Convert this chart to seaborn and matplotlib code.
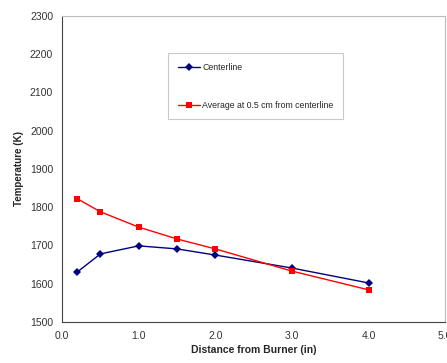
import matplotlib
matplotlib.use("Agg")
import matplotlib.pyplot as plt
import seaborn as sns
import pandas as pd

distance = [0.2, 0.5, 1.0, 1.5, 2.0, 3.0, 4.0]
centerline = [1631, 1678, 1699, 1691, 1675, 1641, 1602]
average_05cm = [1822, 1788, 1748, 1717, 1691, 1633, 1584]

df = pd.DataFrame({
    "Distance": distance * 2,
    "Temperature": centerline + average_05cm,
    "Series": ["Centerline"] * len(distance) + ["Average at 0.5 cm from centerline"] * len(distance),
})

sns.set_style("white")
plt.rcParams["font.family"] = ["Liberation Sans", "DejaVu Sans"]

fig = plt.figure(figsize=(4.47, 3.63), dpi=100)
ax = fig.add_axes([0.139, 0.113, 0.857, 0.843])

sns.lineplot(data=df, x="Distance", y="Temperature", hue="Series", style="Series",
             palette={"Centerline": "#000080", "Average at 0.5 cm from centerline": "#ff0000"},
             markers={"Centerline": "D", "Average at 0.5 cm from centerline": "s"},
             dashes=False, linewidth=1.0, markersize=5, markeredgewidth=0, ax=ax)
# diamonds a bit smaller than squares
for ln in ax.lines:
    if ln.get_marker() == "D":
        ln.set_markersize(4.2)

ax.set_xlim(0, 5)
ax.set_ylim(1500, 2300)
ax.set_xticks([0, 1, 2, 3, 4, 5])
ax.set_xticklabels(["0.0", "1.0", "2.0", "3.0", "4.0", "5.0"])
ax.set_yticks(range(1500, 2301, 100))
ax.tick_params(axis="both", labelsize=7.5, colors="#333333", direction="out", length=3, width=0.8)
for s in ax.spines.values():
    s.set_color("#444444")
    s.set_linewidth(0.8)
ax.spines["top"].set_color("#bbbbbb")
ax.spines["right"].set_color("#bbbbbb")

ax.set_xlabel("Distance from Burner (in)", fontsize=7.5, fontweight="bold", labelpad=3)
ax.set_ylabel("Temperature (K)", fontsize=7, fontweight="bold", labelpad=4)

leg = ax.legend(loc="upper left", bbox_to_anchor=(0.265, 0.893), fontsize=6.3, frameon=True,
                fancybox=False, edgecolor="#bbbbbb", labelspacing=3.3, handlelength=2.6,
                handletextpad=0.2, borderpad=1.1)
leg.get_frame().set_linewidth(0.8)
for h in leg.legend_handles:
    if h.get_marker() == "D":
        h.set_markersize(4.2)

fig.savefig("out.png", dpi=100)
